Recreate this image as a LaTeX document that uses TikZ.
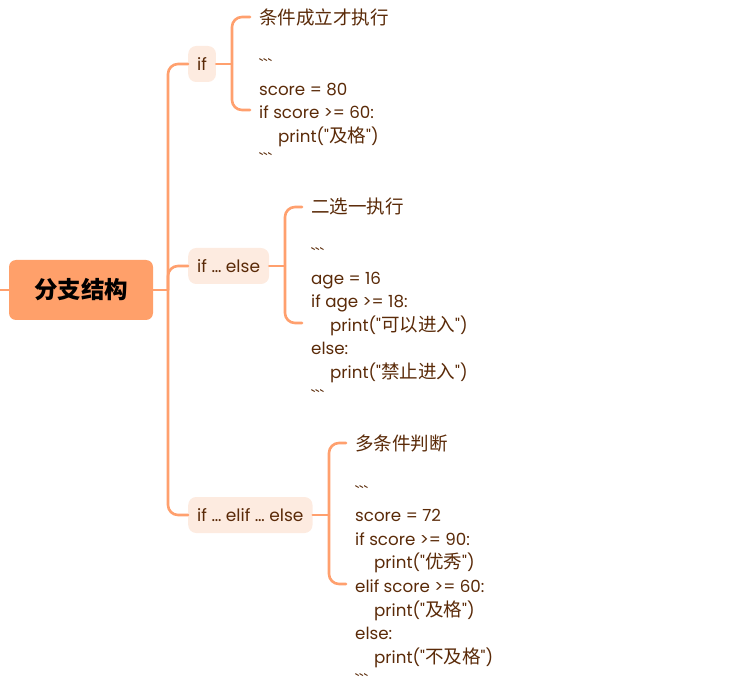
\documentclass[tikz,border=0pt]{standalone}
\usepackage{fontspec}
\setmainfont{Poppins}[Ligatures=TeXOff]
\newfontfamily\cjk{Noto Sans CJK SC}[Scale=1.11]
\newfontfamily\rootfont{Noto Sans CJK SC}
\usetikzlibrary{positioning}
\definecolor{branchline}{HTML}{FFA06E}
\definecolor{rootfill}{HTML}{FFA06A}
\definecolor{subfill}{HTML}{FDEBE0}
\definecolor{codetext}{HTML}{5A2A08}
\newcommand\zh[1]{{\cjk #1}}
\newcommand\tick{\char96\char96\char96}
\newcommand\ind{\hspace*{19pt}}
\tikzset{
  every picture/.append style={line cap=round,line join=round},
  mm root/.style={fill=rootfill,rounded corners=7pt,minimum width=144pt,minimum height=60pt,
    font=\rootfont\bfseries\fontsize{23.5}{28}\selectfont,text=black},
  mm sub/.style={fill=subfill,rounded corners=8pt,minimum height=36pt,inner xsep=9pt,
    anchor=west,font=\fontsize{17}{20}\selectfont,text=codetext},
  mm link/.style={branchline,line width=2.6pt,rounded corners=10pt},
  mm leaf/.style={anchor=north west,inner sep=0pt,align=left,text=codetext,
    font=\fontsize{16.7}{23.6}\selectfont}
}
\begin{document}
\begin{tikzpicture}[x=1pt,y=-1pt]
  \useasboundingbox (0,0) rectangle (749,700);

  % root and its branches
  \node[mm root] (root) at (81,290) {分支结构};
  \node[mm sub] (if) at (188,64) {if};
  \node[mm sub] (ifelse) at (188,266) {if … else};
  \node[mm sub] (elif) at (188,515) {if … elif … else};

  % leaves
  \node[mm leaf] (ifleaf) at (259,8.5) {\zh{条件成立才执行}\\ \mbox{}\\ \tick\\
    score = 80\\ if score >= 60:\\ \ind print("\zh{及格}")\\ \tick};
  \node[mm leaf] (ifelseleaf) at (311,197.5) {\zh{二选一执行}\\ \mbox{}\\ \tick\\
    age = 16\\ if age >= 18:\\ \ind print("\zh{可以进入}")\\ else:\\
    \ind print("\zh{禁止进入}")\\ \tick};
  \node[mm leaf] (elifleaf) at (355,435) {\zh{多条件判断}\\ \mbox{}\\ \tick\\
    score = 72\\ if score >= 90:\\ \ind print("\zh{优秀}")\\ elif score >= 60:\\
    \ind print("\zh{及格}")\\ else:\\ \ind print("\zh{不及格}")\\ \tick};

  % bracket ends
  \coordinate (stub) at (0,290);
  \coordinate (trunk) at (168,290);
  \coordinate (iftop) at (250,17);
  \coordinate (ifbot) at (250,110);
  \coordinate (ifelsetop) at (302,207);
  \coordinate (ifelsebot) at (302,323);
  \coordinate (eliftop) at (346,443);
  \coordinate (elifbot) at (346,584);

  % connectors
  \draw[mm link] (stub) -- (root.west);
  \draw[mm link] (root.east) -- (trunk);
  \draw[mm link] (if.west) -| (trunk) |- (elif.west);
  \draw[mm link] (trunk) |- (ifelse.west);

  \draw[mm link] (if.east) -- (if.east -| 232,0);
  \draw[mm link] (iftop) -| (if.east -| 232,0) |- (ifbot);
  \draw[mm link] (ifelse.east) -- (ifelse.east -| 285,0);
  \draw[mm link] (ifelsetop) -| (ifelse.east -| 285,0) |- (ifelsebot);
  \draw[mm link] (elif.east) -- (elif.east -| 329,0);
  \draw[mm link] (eliftop) -| (elif.east -| 329,0) |- (elifbot);
\end{tikzpicture}
\end{document}
